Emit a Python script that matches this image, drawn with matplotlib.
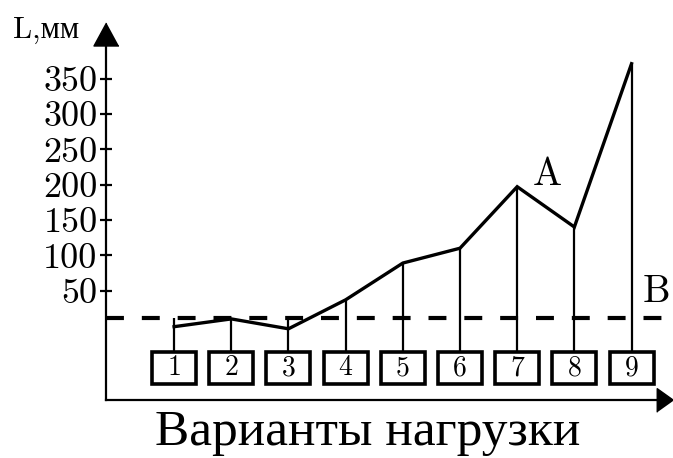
import numpy as np
import matplotlib
matplotlib.use("Agg")
import matplotlib.pyplot as plt
from matplotlib.patches import Rectangle

# load variants 1..9 and the measured L (mm)
variants = [1, 2, 3, 4, 5, 6, 7, 8, 9]
lengths = [-1, 10, -4, 37, 89, 110, 197, 140, 371]
level_b = 11
yticks = [50, 100, 150, 200, 250, 300, 350]
xlabel = "Варианты нагрузки"
ylabel = "L,мм"

serif = ["cmr10", "Liberation Serif"]
plt.rcParams["font.family"] = serif

fig = plt.figure(figsize=(6.73, 4.58), dpi=100)
ax = fig.add_axes([106 / 673, 58 / 458, 559 / 673, 366.5 / 458])
ax.set_xlim(-0.191, 9.585)
ax.set_ylim(-104.7, 413.7)

for side in ("top", "right"):
    ax.spines[side].set_visible(False)
for side in ("left", "bottom"):
    ax.spines[side].set_linewidth(1.6)

ax.set_xticks([])
ax.set_yticks(yticks)
ax.set_yticklabels([str(v) for v in yticks], fontsize=26)
ax.tick_params(axis="y", direction="inout", length=8, width=1.6, pad=2)

# arrow heads on the axes
xhead = [(0.35, 0), (-0.35, 0.5), (-0.35, -0.5)]
yhead = [(0, 0.46), (-0.5, -0.46), (0.5, -0.46)]
ax.plot(1, 0, marker=xhead, ms=17, color="k", transform=ax.transAxes, clip_on=False)
ax.plot(0, 1, marker=yhead, ms=18, color="k", transform=ax.transAxes, clip_on=False)

# level B
ax.axhline(level_b, xmin=0, xmax=0.995, color="k", lw=3, ls=(0, (4.3, 4.3)))

# boxes with variant numbers
box_w, box_h, box_c = 0.77, 44, -59.4
box_top = box_c + box_h / 2
for v in variants:
    ax.add_patch(Rectangle((v - box_w / 2, box_c - box_h / 2), box_w, box_h,
                           fill=False, ec="k", lw=2.6, zorder=3))
    ax.text(v, box_c, str(v), fontsize=20, ha="center", va="center")

# drop lines from the curve to the boxes
tops = np.maximum(np.array(lengths), level_b)
ax.vlines(variants, box_top, tops, color="k", lw=1.6)

ax.plot(variants, lengths, color="k", lw=2.4, solid_joinstyle="miter")

ax.text(7.277, 199, "A", fontsize=28, ha="left", va="baseline")
ax.text(9.20, 34, "B", fontsize=28, ha="left", va="baseline")

fig.text(13 / 673, 1 - 38 / 458, ylabel, fontsize=22, ha="left", va="baseline")
fig.text(368 / 673, 13 / 458, xlabel, fontsize=37, ha="center", va="baseline",
         family=["Liberation Serif"])

fig.savefig("out.png", dpi=100)
